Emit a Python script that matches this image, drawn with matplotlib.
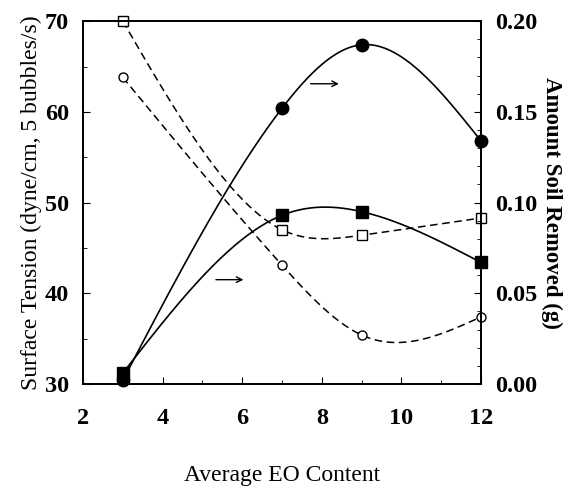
import numpy as np
import matplotlib.pyplot as plt
from matplotlib.ticker import MultipleLocator

# average EO content
eo = [3, 7, 9, 12]
# surface tension (left axis, dyne/cm)
st_square = [70.0, 47.0, 46.4, 48.3]
st_circle = [63.8, 43.1, 35.4, 37.4]
# amount soil removed (right axis, g)
soil_circle = [0.002, 0.152, 0.187, 0.134]
soil_square = [0.006, 0.093, 0.095, 0.067]


def natural_spline(x, y, n=200):
    # natural cubic spline, only used to draw a smooth line through the points
    x = np.asarray(x, float)
    y = np.asarray(y, float)
    k = len(x)
    h = np.diff(x)
    A = np.zeros((k, k))
    b = np.zeros(k)
    A[0, 0] = 1
    A[-1, -1] = 1
    for i in range(1, k - 1):
        A[i, i - 1] = h[i - 1]
        A[i, i] = 2 * (h[i - 1] + h[i])
        A[i, i + 1] = h[i]
        b[i] = 6 * ((y[i + 1] - y[i]) / h[i] - (y[i] - y[i - 1]) / h[i - 1])
    m = np.linalg.solve(A, b)
    xs = np.linspace(x[0], x[-1], n)
    idx = np.clip(np.searchsorted(x, xs) - 1, 0, k - 2)
    x0, x1 = x[idx], x[idx + 1]
    hh = x1 - x0
    t0 = x1 - xs
    t1 = xs - x0
    ys = (m[idx] * t0 ** 3 / (6 * hh) + m[idx + 1] * t1 ** 3 / (6 * hh)
          + (y[idx] / hh - m[idx] * hh / 6) * t0
          + (y[idx + 1] / hh - m[idx + 1] * hh / 6) * t1)
    return xs, ys


plt.rcParams["font.family"] = ["Liberation Serif", "DejaVu Serif"]

fig = plt.figure(figsize=(5.74, 4.92), dpi=100)
ax = fig.add_axes([0.1446, 0.2195, 0.6934, 0.7375])
ax2 = ax.twinx()

xs, ys = natural_spline(eo, st_square)
ax.plot(xs, ys, "k--", lw=1.1, dashes=(5, 3))
ax.plot(eo, st_square, "ks", mfc="white", ms=6.5, mew=1.0, ls="none", clip_on=False)
xs, ys = natural_spline(eo, st_circle)
ax.plot(xs, ys, "k--", lw=1.1, dashes=(5, 3))
ax.plot(eo, st_circle, "ko", mfc="white", ms=6.5, mew=1.0, ls="none", clip_on=False)

xs, ys = natural_spline(eo, soil_circle)
ax2.plot(xs, ys, "k-", lw=1.2)
ax2.plot(eo, soil_circle, "ko", ms=9, ls="none", clip_on=False)
xs, ys = natural_spline(eo, soil_square)
ax2.plot(xs, ys, "k-", lw=1.2)
ax2.plot(eo, soil_square, "ks", ms=8, ls="none", clip_on=False)

ax.set_xlim(2, 12)
ax.set_ylim(30, 70)
ax2.set_ylim(0, 0.20)
ax.xaxis.set_major_locator(MultipleLocator(2))
ax.xaxis.set_minor_locator(MultipleLocator(1))
ax.yaxis.set_major_locator(MultipleLocator(10))
ax.yaxis.set_minor_locator(MultipleLocator(5))
ax2.yaxis.set_major_locator(MultipleLocator(0.05))
ax2.yaxis.set_minor_locator(MultipleLocator(0.01))
ax2.yaxis.set_major_formatter(plt.FormatStrFormatter("%.2f"))

ax.tick_params(axis="both", which="both", direction="in", labelsize=17.5)
ax.tick_params(axis="x", which="major", length=5, pad=17)
ax.tick_params(axis="y", which="major", length=5, pad=10)
ax.tick_params(which="minor", length=3)
ax2.tick_params(axis="y", which="both", direction="in", labelsize=17.5, pad=10)
ax2.tick_params(which="major", length=5)
ax2.tick_params(which="minor", length=3)
for lab in ax.get_xticklabels() + ax.get_yticklabels() + ax2.get_yticklabels():
    lab.set_fontweight("bold")

for a in (ax, ax2):
    for s in a.spines.values():
        s.set_linewidth(1.3)

ax.set_xlabel("Average EO Content", fontsize=17, labelpad=26)
ax.set_ylabel("Surface Tension (dyne/cm, 5 bubbles/s)", fontsize=17, labelpad=2)
ax2.set_ylabel("Amount Soil Removed (g)", fontsize=16.5, fontweight="bold",
               rotation=270, labelpad=18)

ax.annotate("", xy=(8.5, 63.1), xytext=(7.65, 63.1),
            arrowprops=dict(arrowstyle="->", lw=1.0, color="k"))
ax.annotate("", xy=(6.1, 41.5), xytext=(5.27, 41.5),
            arrowprops=dict(arrowstyle="->", lw=1.0, color="k"))

fig.savefig("out.png", dpi=100)
